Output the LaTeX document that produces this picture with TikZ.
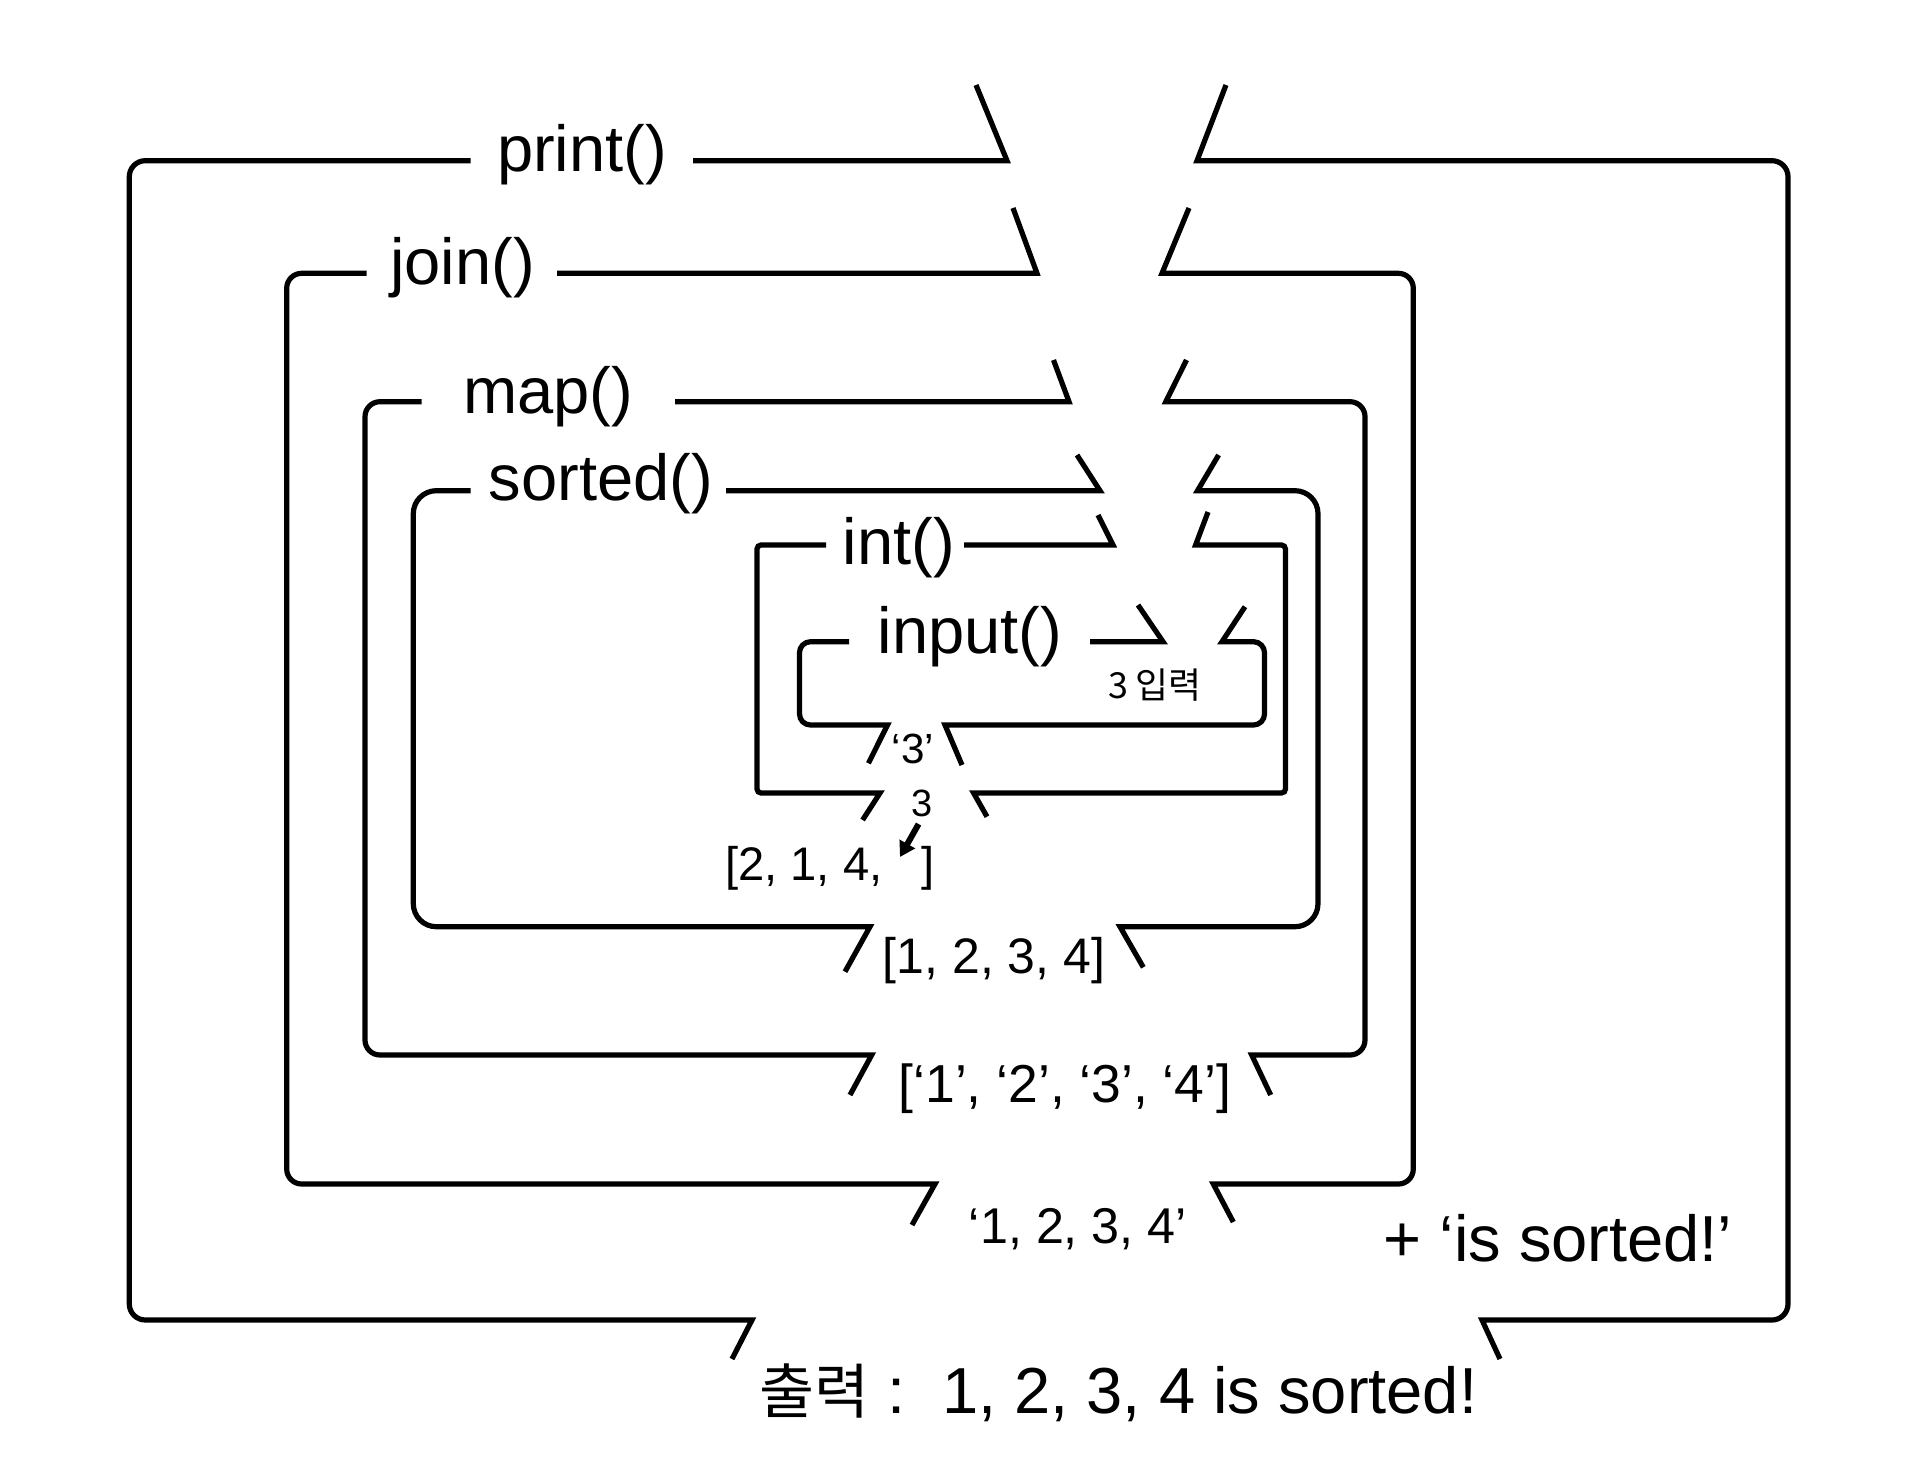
\documentclass[tikz,border=0pt]{standalone}
\usepackage{fontspec}
\setmainfont{Liberation Sans}
\newfontfamily\kr{Noto Sans CJK KR}
\usetikzlibrary{arrows.meta}
\begin{document}
\begin{tikzpicture}[x=0.01cm,y=0.01cm,
  frame/.style={line width=0.052cm,line join=miter,line cap=butt},
  lbl/.style={inner sep=0pt,anchor=base,font=\fontsize{18.5}{22}\selectfont},
  midlbl/.style={inner sep=0pt,anchor=base},
  ptr/.style={line width=0.06cm,-{Triangle[length=0.15cm,width=0.17cm]}}]
\useasboundingbox (0,0) rectangle (1914,-1476);
% ---------- print() ----------
\draw[frame] (470.7,-160.7) -- (145.3,-160.7) arc[start angle=90,end angle=180,radius=0.16cm]
  -- (129.3,-1304) arc[start angle=180,end angle=270,radius=0.16cm] -- (752,-1320) -- (732,-1359);
\draw[frame] (693,-160.7) -- (1007,-160.7) -- (976,-85);
\draw[frame] (1226,-85) -- (1197,-160.7) -- (1772,-160.7) arc[start angle=90,end angle=0,radius=0.16cm]
  -- (1788,-1304) arc[start angle=0,end angle=-90,radius=0.16cm] -- (1482,-1320) -- (1500,-1359);
% ---------- join() ----------
\draw[frame] (366.7,-273.3) -- (301.7,-273.3) arc[start angle=90,end angle=180,radius=0.15cm]
  -- (286.7,-1169) arc[start angle=180,end angle=270,radius=0.15cm] -- (935,-1184) -- (912,-1225);
\draw[frame] (557,-273.3) -- (1037,-273.3) -- (1013,-208);
\draw[frame] (1189,-208) -- (1162,-273.3) -- (1398.3,-273.3) arc[start angle=90,end angle=0,radius=0.15cm]
  -- (1413.3,-1169) arc[start angle=0,end angle=-90,radius=0.15cm] -- (1213.3,-1184) -- (1233.3,-1222);
% ---------- map() ----------
\draw[frame] (421.7,-401.7) -- (380,-401.7) arc[start angle=90,end angle=180,radius=0.15cm]
  -- (365,-1040) arc[start angle=180,end angle=270,radius=0.15cm] -- (871.7,-1055) -- (850,-1095);
\draw[frame] (675,-401.7) -- (1069,-401.7) -- (1053.5,-360);
\draw[frame] (1186.5,-360) -- (1165.8,-401.7) -- (1350,-401.7) arc[start angle=90,end angle=0,radius=0.15cm]
  -- (1365,-1040) arc[start angle=0,end angle=-90,radius=0.15cm] -- (1251.7,-1055) -- (1270.7,-1095);
% ---------- sorted() ----------
\draw[frame] (470.7,-490.7) -- (436.3,-490.7) arc[start angle=90,end angle=180,radius=0.23cm]
  -- (413.3,-903.7) arc[start angle=180,end angle=270,radius=0.23cm] -- (870,-926.7) -- (845,-971.7);
\draw[frame] (726,-490.7) -- (1100,-490.7) -- (1077,-455);
\draw[frame] (1218.6,-455) -- (1197.5,-490.7) -- (1295,-490.7) arc[start angle=90,end angle=0,radius=0.23cm]
  -- (1318,-903.7) arc[start angle=0,end angle=-90,radius=0.23cm] -- (1120,-926.7) -- (1143.3,-967.3);
% ---------- int() ----------
\draw[frame] (826,-545) -- (761,-545) arc[start angle=90,end angle=180,radius=0.04cm]
  -- (757,-789) arc[start angle=180,end angle=270,radius=0.04cm] -- (880,-793) -- (862.6,-820);
\draw[frame] (964,-545) -- (1113,-545) -- (1098,-515);
\draw[frame] (1208,-512) -- (1195.6,-545) -- (1281.5,-545) arc[start angle=90,end angle=0,radius=0.04cm]
  -- (1285.5,-789) arc[start angle=0,end angle=-90,radius=0.04cm] -- (973.6,-793) -- (987,-816.7);
% ---------- input() ----------
\draw[frame] (849,-641.7) -- (810.5,-641.7) arc[start angle=90,end angle=180,radius=0.11cm]
  -- (799.5,-714) arc[start angle=180,end angle=270,radius=0.11cm] -- (887.5,-725) -- (868.4,-763.3);
\draw[frame] (1090,-641.7) -- (1163,-641.7) -- (1138,-605);
\draw[frame] (1245,-606.7) -- (1222,-641.7) -- (1253.5,-641.7) arc[start angle=90,end angle=0,radius=0.11cm]
  -- (1264.5,-714) arc[start angle=0,end angle=-90,radius=0.11cm] -- (945,-725) -- (962,-765);
% ---------- labels ----------
\node[lbl] (print) at (582,-172) {print()};
\node[lbl] (join) at (462.5,-284.5) {join()};
\node[lbl] (map) at (548,-414) {map()};
\node[lbl] (sorted) at (601,-501) {sorted()};
\node[lbl] (int) at (899,-564) {int()};
\node[lbl] (input) at (970,-653) {input()};
\node[midlbl,font=\kr\fontsize{10.2}{12}\selectfont] (typed) at (1155,-698) {3 입력};
\node[midlbl,font=\fontsize{12}{14}\selectfont] (str3) at (913,-763) {‘3’};
\node[midlbl,font=\fontsize{10.8}{12}\selectfont] (num3) at (922.5,-816) {3};
\node[midlbl,font=\fontsize{13.4}{16}\selectfont] (list0) at (830,-880) {[2, 1, 4, \phantom{3}]};
\node[midlbl,font=\fontsize{14.2}{17}\selectfont] (list1) at (994,-973) {[1, 2, 3, 4]};
\node[midlbl,font=\fontsize{15.2}{18}\selectfont] (list2) at (1065,-1102.5) {[‘1’, ‘2’, ‘3’, ‘4’]};
\node[midlbl,font=\fontsize{14.3}{17}\selectfont] (joined) at (1078,-1243) {‘1, 2, 3, 4’};
\node[lbl] (plus) at (1558,-1261) {+ ‘is sorted!’};
\node[lbl] (out) at (1118.5,-1413) {{\kr\fontsize{17}{20}\selectfont 출력} :\ \ 1, 2, 3, 4 is sorted!};
% ---------- arrow ----------
\coordinate (slot) at (900,-857);
\draw[ptr,shorten <=0.08cm] (num3.south) -- (slot);
\end{tikzpicture}
\end{document}
